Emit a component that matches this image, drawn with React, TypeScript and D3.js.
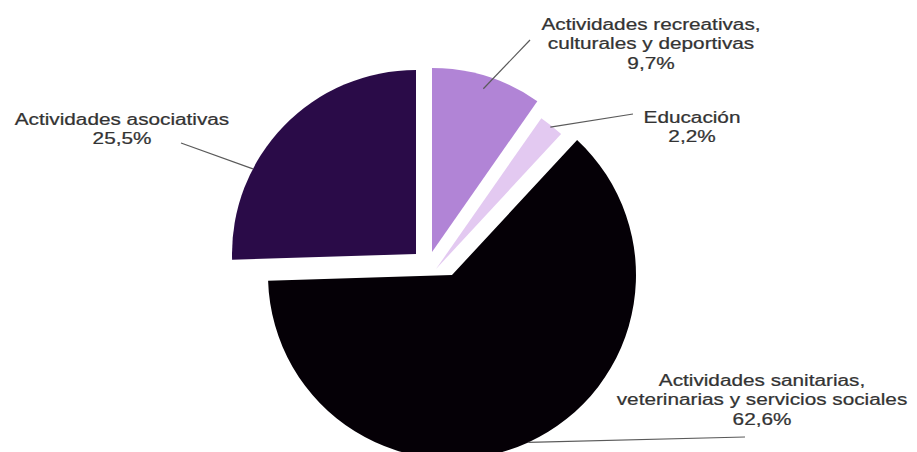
import React from 'react'
import * as d3 from 'd3';

const W = 917;
const H = 452;
const RADIUS = 184;
const CX = 436;
const CY = 262;

// data, clockwise from 12 o'clock
const names = [
  ['Actividades recreativas,', 'culturales y deportivas'],
  ['Educación'],
  ['Actividades sanitarias,', 'veterinarias y servicios sociales'],
  ['Actividades asociativas'],
];
const shares = [9.7, 2.2, 62.6, 25.5];
const shareLabels = ['9,7%', '2,2%', '62,6%', '25,5%'];

// layout (explode shift of each slice, label anchors, leader lines)
const colors = ['#b184d6', '#e3c9f1', '#050006', '#2a0b48'];
const shifts = [[-4, -10], [0, 7], [16, 13], [-20, -8]];
const labelPos = [[651, 30], [692, 123], [762, 386], [122, 125]];
const leaderFrac = [0.5, 0.5, 0.5, 0.32];
const leaderRad = [0.93, 0.99, 1.0, 1.0];
const leaderEnd = [[530, 40], [633, 114], [745, 437], [181, 143]];

const LINE = 19.5;
const STRETCH = 1.2;

const App = () => {
  const pie = d3.pie<number>().sort(null).value(d => d);
  const arcs = pie(shares);
  const arc = d3.arc<d3.PieArcDatum<number>>().innerRadius(0).outerRadius(RADIUS);

  return (
    <svg width={W} height={H} style={{ position: 'fixed', left: 0, top: 0, background: '#fff' }}>
      <rect width={W} height={H} fill="#fff" />
      {arcs.map((a, i) => (
        <path key={i} d={arc(a) || ''} fill={colors[i]}
          transform={`translate(${CX + shifts[i][0]},${CY + shifts[i][1]})`} />
      ))}
      {arcs.map((a, i) => {
        const ang = a.startAngle + (a.endAngle - a.startAngle) * leaderFrac[i];
        const r = RADIUS * leaderRad[i];
        const x = CX + shifts[i][0] + r * Math.sin(ang);
        const y = CY + shifts[i][1] - r * Math.cos(ang);
        return (
          <line key={i} x1={x} y1={y} x2={leaderEnd[i][0]} y2={leaderEnd[i][1]}
            stroke="#5a5a5a" strokeWidth={1.2} />
        );
      })}
      {names.map((lines, i) => (
        <text key={i} transform={`translate(${labelPos[i][0]},${labelPos[i][1]}) scale(${STRETCH},1)`}
          textAnchor="middle" fontFamily="'Liberation Sans', Arial, sans-serif" fontSize={17.3}
          fill="#333" stroke="#333" strokeWidth={0.25}>
          {[...lines, shareLabels[i]].map((t, j) => (
            <tspan key={j} x={0} y={j * LINE}>{t}</tspan>
          ))}
        </text>
      ))}
    </svg>
  );
}

export default App;
